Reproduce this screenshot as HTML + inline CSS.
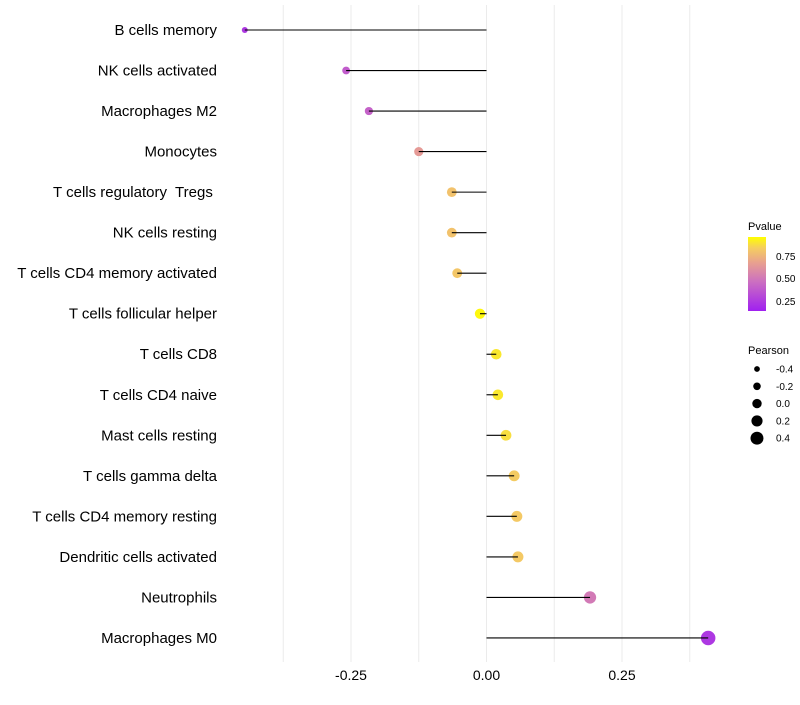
<!DOCTYPE html>
<html><head><meta charset="utf-8"><style>
body{margin:0;background:#fff;font-family:"Liberation Sans",sans-serif}
</style></head><body>
<svg id="c" width="800" height="700" xmlns="http://www.w3.org/2000/svg">
<defs><linearGradient id="pg" x1="0" y1="1" x2="0" y2="0">
<stop offset="0" stop-color="#A020F0"/><stop offset="0.4" stop-color="#CC70C0"/><stop offset="0.65" stop-color="#E8A090"/><stop offset="0.85" stop-color="#F5CD60"/><stop offset="1" stop-color="#FFFF00"/></linearGradient></defs>
<g id="grid"></g><g id="dots"></g><g id="stems"></g><g id="labels"></g>
<g font-size="10">
<text x="748" y="230" font-size="11">Pvalue</text>
<rect x="748" y="237" width="18" height="74" fill="url(#pg)"/>
<text x="776" y="260">0.75</text><text x="776" y="282">0.50</text><text x="776" y="305">0.25</text>
</g>
<g font-size="10" id="sleg">
<text x="748" y="354" font-size="11">Pearson</text>
</g>
</svg>
<script>
const categories=["B cells memory","NK cells activated","Macrophages M2","Monocytes","T cells regulatory  Tregs ","NK cells resting","T cells CD4 memory activated","T cells follicular helper","T cells CD8","T cells CD4 naive","Mast cells resting","T cells gamma delta","T cells CD4 memory resting","Dendritic cells activated","Neutrophils","Macrophages M0"];
const pearson=[-0.446,-0.259,-0.217,-0.125,-0.064,-0.064,-0.054,-0.012,0.018,0.021,0.036,0.051,0.056,0.058,0.191,0.409];
const pvalues=[0.12,0.3,0.33,0.62,0.8,0.8,0.82,0.98,0.93,0.93,0.9,0.84,0.83,0.83,0.45,0.12];
const xTicks=[-0.25,0,0.25];
const xTickLabels=["-0.25","0.00","0.25"];
const legendSizes=[-0.4,-0.2,0.0,0.2,0.4];
const NS="http://www.w3.org/2000/svg";
const x=v=>486.5+v*542;
const y=i=>30+i*40.53;
const r=v=>Math.max(1.8,5.2+5*v);
const stops=[[0,[160,32,240]],[0.4,[204,112,192]],[0.65,[232,160,144]],[0.85,[245,205,96]],[1,[255,255,0]]];
function col(p){p=Math.max(0,Math.min(1,p));for(let k=1;k<stops.length;k++){if(p<=stops[k][0]){const a=stops[k-1],b=stops[k],t=(p-a[0])/(b[0]-a[0]);return`rgb(${a[1].map((c,j)=>Math.round(c+(b[1][j]-c)*t)).join(",")})`;}}}
function mk(t,a,p){const e=document.createElementNS(NS,t);for(const k in a)e.setAttribute(k,a[k]);p.appendChild(e);return e;}
const grid=document.getElementById('grid'),dots=document.getElementById('dots'),stems=document.getElementById('stems'),labels=document.getElementById('labels');
for(let v=-0.375;v<=0.38;v+=0.125){const g=mk('line',{x1:x(v),x2:x(v),y1:5,y2:662,stroke:'#ebebeb','stroke-width':1},grid);

}
xTicks.forEach((v,i)=>{const t=mk('text',{x:x(v),y:680,'text-anchor':'middle','font-size':14},labels);t.textContent=xTickLabels[i];

});
categories.forEach((c,i)=>{
const d=mk('circle',{cx:x(pearson[i]),cy:y(i),r:r(pearson[i]),fill:col(pvalues[i])},dots);


const l=mk('line',{x1:x(0),x2:x(pearson[i]),y1:y(i),y2:y(i),stroke:'#000','stroke-width':1.1},stems);


const t=mk('text',{x:217,y:y(i)+5,'text-anchor':'end','font-size':15},labels);t.textContent=c;t.style.whiteSpace='pre';

});
const sl=document.getElementById('sleg');
legendSizes.forEach((v,i)=>{const cy=369+i*17.3;
const d=mk('circle',{cx:757,cy:cy,r:r(v)*0.9,fill:'#000'},sl);


const t=mk('text',{x:776,y:cy+3.5},sl);t.textContent=v.toFixed(1);

});
</script>
</body></html>
